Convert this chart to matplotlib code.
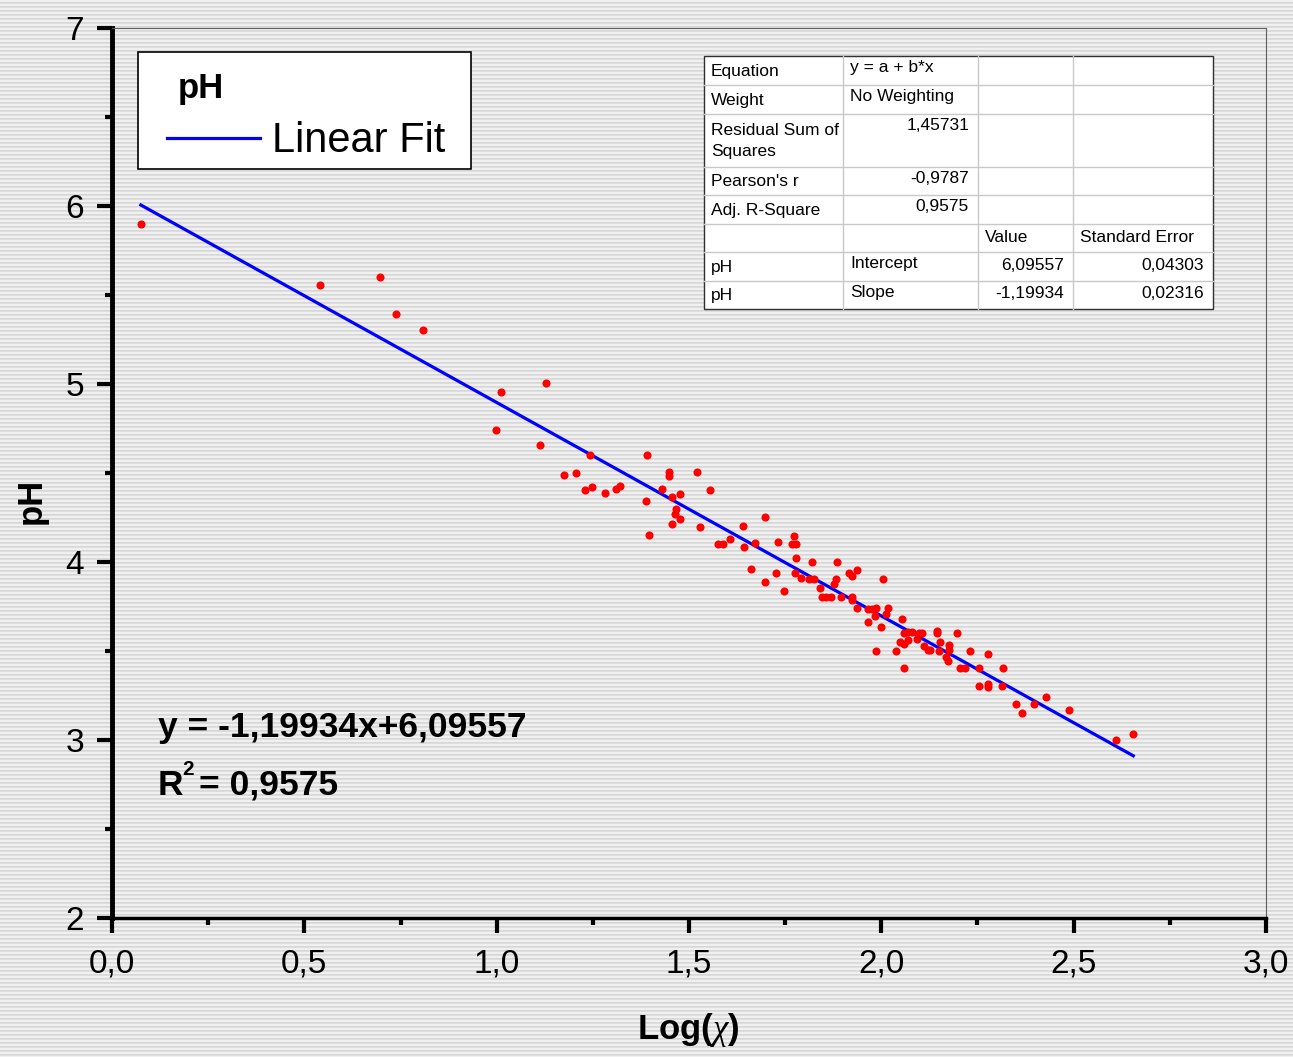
import numpy as np
import matplotlib
matplotlib.use("Agg")
import matplotlib.pyplot as plt
from matplotlib.patches import Rectangle
from matplotlib.ticker import MultipleLocator, FuncFormatter

plt.rcParams["font.family"] = ["Liberation Sans", "DejaVu Sans"]
plt.rcParams["mathtext.fontset"] = "custom"
plt.rcParams["mathtext.rm"] = "Liberation Sans"
plt.rcParams["mathtext.bf"] = "Liberation Sans:bold"
plt.rcParams["mathtext.it"] = "Liberation Serif:italic"

# dados: Log(chi) x pH
log_chi = [0.075, 0.540, 0.697, 0.738, 0.809,
           1.011, 1.128, 0.998, 1.113, 1.243, 1.175, 1.205, 1.229, 1.249, 1.281,
           1.309, 1.321, 1.391, 1.388, 1.395, 1.429, 1.449, 1.449, 1.457, 1.476,
           1.465, 1.464, 1.476, 1.455, 1.522, 1.555, 1.529, 1.641, 1.576, 1.589,
           1.607, 1.642, 1.671,
           1.697, 1.661, 1.698, 1.731, 1.726, 1.748, 1.773, 1.769, 1.778, 1.777,
           1.776, 1.791, 1.821, 1.812, 1.825, 1.841, 1.847, 1.857, 1.868, 1.884,
           1.882, 1.878, 1.896, 1.917, 1.925, 1.936, 1.924, 1.924, 2.005, 1.938,
           1.966, 2.000, 2.018, 2.012, 2.055,
           1.965, 1.977, 1.987, 1.984, 1.985, 2.060, 2.070, 2.079, 2.048, 2.060,
           2.070, 2.038, 2.060, 2.097, 2.107, 2.094, 2.111, 2.122, 2.127, 2.145,
           2.145, 2.153, 2.149, 2.175, 2.175, 2.168, 2.174, 2.197, 2.231, 2.205,
           2.218, 2.254, 2.278, 2.315, 2.254, 2.278, 2.278, 2.313, 2.349, 2.366,
           2.397, 2.427, 2.487, 2.610, 2.655]
ph = [5.900, 5.556, 5.603, 5.391, 5.303,
      4.953, 5.004, 4.742, 4.657, 4.601, 4.489, 4.498, 4.403, 4.419, 4.389,
      4.410, 4.429, 4.601, 4.341, 4.152, 4.408, 4.503, 4.483, 4.363, 4.380,
      4.298, 4.270, 4.240, 4.213, 4.504, 4.403, 4.194, 4.200, 4.101, 4.101,
      4.129, 4.084, 4.105,
      4.255, 3.961, 3.889, 4.110, 3.936, 3.839, 4.144, 4.101, 4.101, 4.024,
      3.940, 3.912, 4.002, 3.903, 3.903, 3.856, 3.805, 3.805, 3.805, 4.002,
      3.903, 3.876, 3.803, 3.940, 3.923, 3.953, 3.805, 3.787, 3.903, 3.743,
      3.661, 3.633, 3.743, 3.706, 3.682,
      3.734, 3.734, 3.743, 3.697, 3.502, 3.599, 3.608, 3.608, 3.552, 3.538,
      3.562, 3.502, 3.402, 3.603, 3.603, 3.566, 3.528, 3.504, 3.504, 3.614,
      3.599, 3.552, 3.502, 3.532, 3.506, 3.468, 3.444, 3.601, 3.502, 3.402,
      3.402, 3.402, 3.481, 3.402, 3.303, 3.315, 3.300, 3.303, 3.200, 3.150,
      3.200, 3.242, 3.170, 3.002, 3.032]

intercepto = 6.09557
inclinacao = -1.19934
r2_aj = 0.9575

tabela = [
    ["Equation", "y = a + b*x", "", ""],
    ["Weight", "No Weighting", "", ""],
    ["Residual Sum of\nSquares", "1,45731", "", ""],
    ["Pearson's r", "-0,9787", "", ""],
    ["Adj. R-Square", "0,9575", "", ""],
    ["", "", "Value", "Standard Error"],
    ["pH", "Intercept", "6,09557", "0,04303"],
    ["pH", "Slope", "-1,19934", "0,02316"],
]

W, H = 1293, 1057
fig = plt.figure(figsize=(W / 100, H / 100), dpi=100)

# fundo listrado
listras = np.tile([0.94, 0.94, 0.84, 0.87], H // 4 + 1)[:H]
bg = fig.add_axes([0, 0, 1, 1], zorder=-5)
bg.imshow(np.repeat(listras[:, None], 4, axis=1), cmap="gray", vmin=0, vmax=1,
          aspect="auto", interpolation="nearest")
bg.axis("off")

ax = fig.add_axes([112 / W, 1 - 918 / H, (1266 - 112) / W, (918 - 28) / H], zorder=1)
ax.patch.set_visible(False)

ax.scatter(log_chi, ph, s=34, color="#ff0000", zorder=3, linewidths=0)
xf = np.array([min(log_chi), max(log_chi)])
ax.plot(xf, intercepto + inclinacao * xf, color="#0000ff", linewidth=2.3, zorder=2)

ax.set_xlim(0, 3.0)
ax.set_ylim(2, 7)
ax.xaxis.set_major_locator(MultipleLocator(0.5))
ax.xaxis.set_minor_locator(MultipleLocator(0.25))
ax.yaxis.set_major_locator(MultipleLocator(1))
ax.yaxis.set_minor_locator(MultipleLocator(0.5))
ax.xaxis.set_major_formatter(FuncFormatter(lambda v, _: f"{v:.1f}".replace(".", ",")))
ax.yaxis.set_major_formatter(FuncFormatter(lambda v, _: f"{v:.0f}"))
ax.tick_params(which="major", direction="out", length=11, width=3, labelsize=24, pad=9)
ax.tick_params(which="minor", direction="out", length=5, width=3)
ax.tick_params(axis="x", which="major", pad=11)

ax.spines["left"].set_linewidth(3.5)
ax.spines["bottom"].set_linewidth(2.5)
for lado in ["top", "right"]:
    ax.spines[lado].set_linewidth(0.8)
    ax.spines[lado].set_color("#606060")

ax.set_xlabel(r"Log($\chi$)", fontsize=25, fontweight="bold")
ax.xaxis.set_label_coords((688 - 112) / (1266 - 112), -(1011 - 918) / (918 - 28))
ax.set_ylabel("pH", fontsize=25, fontweight="bold")
ax.yaxis.set_label_coords(-(112 - 48) / (1266 - 112), (918 - 501) / (918 - 28))

# camada de sobreposição em pixels (legenda, tabela, equação)
ov = fig.add_axes([0, 0, 1, 1], zorder=4)
ov.set_xlim(0, W)
ov.set_ylim(H, 0)
ov.axis("off")

ov.add_patch(Rectangle((138, 52), 333, 117, facecolor="white", edgecolor="black", linewidth=1.2))
ov.text(178, 98, "pH", fontsize=25, fontweight="bold", va="baseline")
ov.plot([167, 260], [138, 138], color="#0000ff", linewidth=2.3)
ov.text(272, 152, "Linear Fit", fontsize=30, va="baseline")

ov.text(158, 737, f"y = {inclinacao:.5f}x+{intercepto:.5f}".replace(".", ","),
        fontsize=25.5, fontweight="bold", va="baseline")
ov.text(158, 795, "R", fontsize=25.5, fontweight="bold", va="baseline")
ov.text(182, 775, "2", fontsize=15, fontweight="bold", va="baseline")
ov.text(199, 795, f"= {r2_aj:.4f}".replace(".", ","),
        fontsize=25.5, fontweight="bold", va="baseline")

# tabela de resultados
col_x = [704, 843, 978, 1073, 1213]
lin_y = [56, 85, 114, 166.7, 195, 224, 252.3, 280.7, 309]
ov.add_patch(Rectangle((col_x[0], lin_y[0]), col_x[-1] - col_x[0], lin_y[-1] - lin_y[0],
                       facecolor="white", edgecolor="none"))
for xx in col_x[1:-1]:
    ov.plot([xx, xx], [lin_y[0], lin_y[-1]], color="#c8c8c8", linewidth=1)
for yy in lin_y[1:-1]:
    ov.plot([col_x[0], col_x[-1]], [yy, yy], color="#c8c8c8", linewidth=1)
ov.add_patch(Rectangle((col_x[0], lin_y[0]), col_x[-1] - col_x[0], lin_y[-1] - lin_y[0],
                       facecolor="none", edgecolor="#303030", linewidth=1))

for i, linha in enumerate(tabela):
    y0, y1 = lin_y[i], lin_y[i + 1]
    for j, txt in enumerate(linha):
        if not txt:
            continue
        numero = txt[0].isdigit() or txt[0] == "-"
        if numero:
            xx, ha = col_x[j + 1] - 9, "right"
        else:
            xx, ha = col_x[j] + 7, "left"
        if j == 0:
            ov.text(xx, (y0 + y1) / 2 + 1, txt, fontsize=12.5, ha=ha, va="center", linespacing=1.5)
        elif j == 1:
            ov.text(xx, y0 + 4, txt, fontsize=12.5, ha=ha, va="top")
        else:
            ov.text(xx, (y0 + y1) / 2 - 1, txt, fontsize=12.5, ha=ha, va="center")

fig.savefig("out.png", dpi=100)
plt.close(fig)
